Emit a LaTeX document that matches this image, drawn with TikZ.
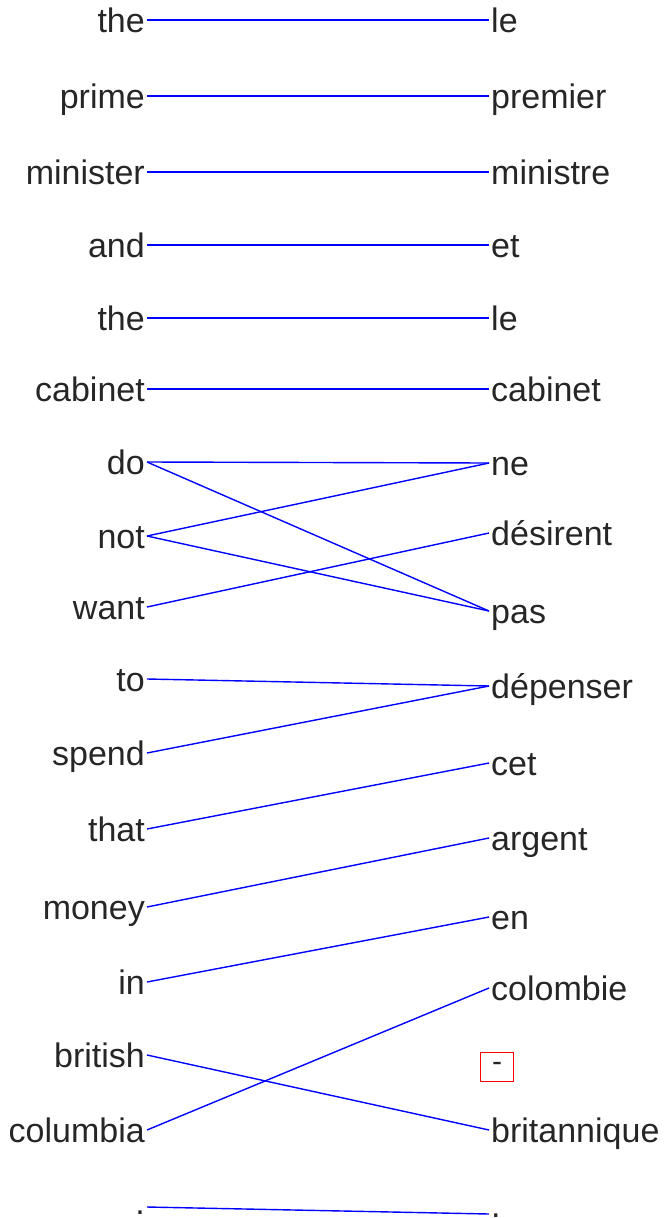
\documentclass[tikz,border=0pt]{standalone}
\usepackage{fontspec}
\setmainfont{Liberation Sans}
\begin{document}
\begin{tikzpicture}[x=1pt,y=-1pt,
  word/.style={font=\fontsize{34}{40}\selectfont, text=black!85, inner xsep=2pt, inner ysep=0pt},
  lw/.style={word, anchor=base east},
  rw/.style={word, anchor=base west},
  link/.style={draw=blue, line width=1.4pt},
  mark box/.style={font=\fontsize{30}{36}\selectfont, text=black!85, draw=red, line width=1.4pt, minimum width=33pt, minimum height=29pt, inner sep=0pt}]
\useasboundingbox (0,0) rectangle (666,1218);
% left words (baseline = line y + 12)
\node[lw] (l1) at (147,32) {the};
\node[lw] (l2) at (147,108) {prime};
\node[lw] (l3) at (147,184) {minister};
\node[lw] (l4) at (147,257) {and};
\node[lw] (l5) at (147,330) {the};
\node[lw] (l6) at (147,401) {cabinet};
\node[lw] (l7) at (147,474) {do};
\node[lw] (l8) at (147,548) {not};
\node[lw] (l9) at (147,619) {want};
\node[lw] (l10) at (147,691) {to};
\node[lw] (l11) at (147,765) {spend};
\node[lw] (l12) at (147,841) {that};
\node[lw] (l13) at (147,919) {money};
\node[lw] (l14) at (147,994) {in};
\node[lw] (l15) at (147,1067) {british};
\node[lw] (l16) at (147,1142) {columbia};
\node[lw] (l17) at (147,1214) {.};
% right words
\node[rw] (r1) at (489,32) {le};
\node[rw] (r2) at (489,108) {premier};
\node[rw] (r3) at (489,184) {ministre};
\node[rw] (r4) at (489,257) {et};
\node[rw] (r5) at (489,330) {le};
\node[rw] (r6) at (489,401) {cabinet};
\node[rw] (r7) at (489,475) {ne};
\node[rw] (r8) at (489,545) {désirent};
\node[rw] (r9) at (489,623) {pas};
\node[rw] (r10) at (489,698) {dépenser};
\node[rw] (r11) at (489,775) {cet};
\node[rw] (r12) at (489,850) {argent};
\node[rw] (r13) at (489,929) {en};
\node[rw] (r14) at (489,1000) {colombie};
\node[mark box] (r15) at (497,1067) {-};
\node[rw] (r16) at (489,1142) {britannique};
\node[rw] (r17) at (489,1217) {.};
% links
\newcommand{\lk}[2]{\draw[link] ([yshift=12pt]#1.base east) -- ([yshift=12pt]#2.base west);}
\lk{l1}{r1}
\lk{l2}{r2}
\lk{l3}{r3}
\lk{l4}{r4}
\lk{l5}{r5}
\lk{l6}{r6}
\lk{l7}{r7}
\lk{l7}{r9}
\lk{l8}{r7}
\lk{l8}{r9}
\lk{l9}{r8}
\lk{l10}{r10}
\lk{l11}{r10}
\lk{l12}{r11}
\lk{l13}{r12}
\lk{l14}{r13}
\lk{l15}{r16}
\lk{l16}{r14}
\draw[link] ([yshift=7pt]l17.base east) -- ([yshift=3pt]r17.base west);
\end{tikzpicture}
\end{document}
